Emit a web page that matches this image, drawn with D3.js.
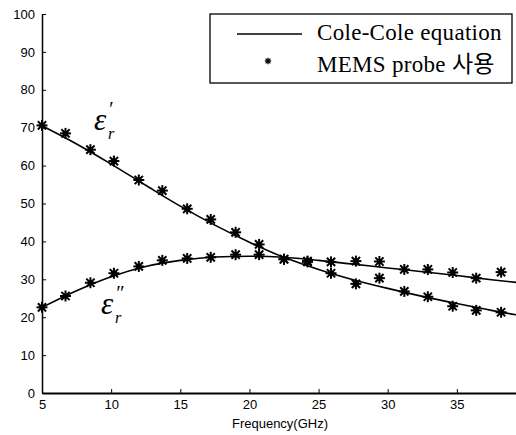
<!DOCTYPE html>
<html><head><meta charset="utf-8">
<script src="https://cdn.jsdelivr.net/npm/d3@7"></script>
<style>html,body{margin:0;padding:0;background:#fff;overflow:hidden}</style>
</head><body>
<script>
// ---- data ----
const freqs = [5.0, 6.7, 8.5, 10.2, 12.0, 13.7, 15.5, 17.2, 19.0, 20.7, 22.5, 24.2, 25.9, 27.7, 29.4, 31.2, 32.9, 34.7, 36.4, 38.2];
const epsRealMeas = [70.6, 68.5, 64.2, 61.2, 56.2, 53.4, 48.6, 45.8, 42.4, 39.2, 35.3, 34.6, 31.6, 28.8, 30.3, 26.8, 25.4, 22.9, 21.8, 21.3];
const epsImagMeas = [22.6, 25.6, 29.1, 31.6, 33.4, 35.0, 35.5, 35.8, 36.5, 36.5, 35.3, 34.8, 34.6, 34.8, 34.7, 32.6, 32.6, 31.8, 30.3, 31.9];
const fitFreqs = [5, 7.5, 10, 12.5, 15, 17.5, 20, 22.5, 25, 27.5, 30, 32.5, 35, 37.5, 40];
const epsRealFit = [70.5, 65.7, 60.4, 54.8, 49.3, 44.3, 39.8, 35.8, 32.6, 29.9, 27.6, 25.5, 23.6, 21.8, 20.2];
const epsImagFit = [22.6, 27.0, 30.7, 33.4, 35.0, 35.9, 36.1, 35.8, 35.0, 34.0, 33.0, 32.0, 31.0, 29.9, 28.9];
const xTicks = [5, 10, 15, 20, 25, 30, 35];
const yTicks = [0, 10, 20, 30, 40, 50, 60, 70, 80, 90, 100];
const legendLabels = ["Cole-Cole equation", "MEMS probe 사용"];

const W = 516, H = 435;
const svg = d3.select("body").append("svg").attr("width", W).attr("height", H)
  .style("font-family", "'Liberation Sans', Arial, sans-serif");

const x = d3.scaleLinear().domain([5, 40]).range([42, 526]);
const y = d3.scaleLinear().domain([0, 100]).range([393, 14]);

// axes
const xAxis = d3.axisBottom(x).tickValues(xTicks).tickSizeInner(-4).tickSizeOuter(0).tickPadding(7);
const gx = svg.append("g").attr("transform", `translate(0,${y(0)})`).call(xAxis);
gx.select(".domain").attr("stroke", "#000").attr("stroke-width", 1.8);
gx.selectAll(".tick line").attr("stroke", "#000").attr("stroke-width", 1);
gx.selectAll(".tick text").attr("font-size", 13).attr("fill", "#000")
  .attr("font-family", "'Liberation Sans', Arial, sans-serif");

const yAxis = d3.axisLeft(y).tickValues(yTicks).tickSizeInner(-4).tickSizeOuter(0).tickPadding(7);
const gy = svg.append("g").attr("transform", `translate(${x(5)},0)`).call(yAxis);
gy.select(".domain").attr("stroke", "#000").attr("stroke-width", 1.5);
gy.selectAll(".tick line").attr("stroke", "#000").attr("stroke-width", 1);
gy.selectAll(".tick text").attr("font-size", 13).attr("fill", "#000")
  .attr("font-family", "'Liberation Sans', Arial, sans-serif");

svg.append("text").attr("x", 280).attr("y", 428).attr("text-anchor", "middle")
  .attr("font-size", 13).attr("fill", "#000").text("Frequency(GHz)");

// fitted lines
const line = d3.line().x(d => x(d[0])).y(d => y(d[1])).curve(d3.curveMonotoneX);
[epsRealFit, epsImagFit].forEach(vals => {
  svg.append("path").datum(fitFreqs.map((f, i) => [f, vals[i]]))
    .attr("d", line).attr("fill", "none").attr("stroke", "#000").attr("stroke-width", 1.6);
});

// asterisk marker
function star(g, cx, cy, r, sw) {
  const m = g.append("g").attr("transform", `translate(${cx},${cy})`);
  const a = r * 0.75;
  [[-r,0,r,0],[0,-r,0,r],[-a,-a,a,a],[-a,a,a,-a]].forEach(s => {
    m.append("line").attr("x1", s[0]).attr("y1", s[1]).attr("x2", s[2]).attr("y2", s[3])
      .attr("stroke", "#000").attr("stroke-width", sw);
  });
  m.append("circle").attr("r", r * 0.5).attr("fill", "#000");
}
const mg = svg.append("g");
[epsRealMeas, epsImagMeas].forEach(vals => {
  freqs.forEach((f, i) => star(mg, x(f), y(vals[i]), 5.5, 2));
});

// epsilon labels (single text element each, tspans positioned)
const serif = "'Liberation Serif', 'Times New Roman', serif";
function epsLabel(ex, ey, primes) {
  const t = svg.append("text").attr("font-family", serif).attr("font-style", "italic").attr("fill", "#000");
  t.append("tspan").attr("x", ex).attr("y", ey).attr("font-size", 31).text("ε");
  t.append("tspan").attr("x", ex + 14).attr("y", ey - 14).attr("font-size", 20).text(primes);
  t.append("tspan").attr("x", ex + 14).attr("y", ey + 9).attr("font-size", 16).text("r");
}
epsLabel(94, 130, "′");
epsLabel(101, 314, "″");

// legend
const lg = svg.append("g");
lg.append("rect").attr("x", 210).attr("y", 14).attr("width", 302).attr("height", 69)
  .attr("fill", "#fff").attr("stroke", "#000").attr("stroke-width", 1.3);
lg.append("line").attr("x1", 237).attr("x2", 302).attr("y1", 34).attr("y2", 34)
  .attr("stroke", "#000").attr("stroke-width", 1.6);
star(lg, 268, 61, 3.2, 1.3);
legendLabels.forEach((t, i) => {
  lg.append("text").attr("x", 317).attr("y", 40 + i * 32)
    .attr("font-family", "'Liberation Serif', 'Times New Roman', 'Noto Sans CJK KR', serif")
    .attr("font-size", 23).attr("letter-spacing", 0.3).attr("fill", "#000").text(t);
});
</script>
</body></html>
